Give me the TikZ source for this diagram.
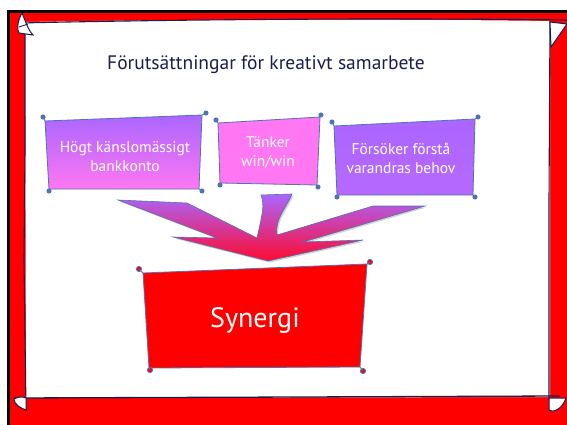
\documentclass[tikz,border=0pt]{standalone}
\usepackage{fontspec}
\setmainfont{PT Sans}
\usetikzlibrary{shadows}
\definecolor{framered}{HTML}{FF0000}
\definecolor{ink}{HTML}{1B1D4D}
\definecolor{edge}{HTML}{4F74B4}
\definecolor{lila}{HTML}{AA66FF}
\definecolor{rosa}{HTML}{FF77F2}
\definecolor{pilred}{HTML}{FF0A30}
\tikzset{
  card/.style={draw=edge, line width=0.8pt},
  knot/.style={fill=edge, draw=edge},
  cardtext/.style={text=white, align=center, font=\fontsize{15.5}{19}\selectfont},
}
\begin{document}
\begin{tikzpicture}[x=1pt,y=-1pt]
    \useasboundingbox (0,0) rectangle (567,425);
    \fill [white] (0,0) rectangle (567,425);
    % red frame
    \fill [framered] (8,11) rectangle (567,425);
    \draw [line width=3pt] (8,425) -- (8,11.5) -- (567,11.5);
    % white sheet with curled corners
    \fill [white] (25,22) .. controls (200,19) and (400,19) .. (550,21) -- (550,397) -- (26,398) -- cycle;
    \draw [ink, line width=1.1pt] (20,23) .. controls (200,19) and (400,18) .. (567,20);
    \draw [ink, line width=1.1pt] (25,30) -- (25,150) -- (24,260) -- (26,410);
    \draw [ink, line width=1.1pt] (550,21) -- (549,200) -- (549,400);
    \draw [ink, line width=1.3pt] (14,398) -- (300,397) -- (560,396);
    \filldraw [white, draw=ink, line width=1pt] (22,13) .. controls (17,22) and (17,30) .. (19,33) -- (33,35) .. controls (28,30) and (25,20) .. cycle;
    \draw [ink, line width=0.8pt] (19,27) -- (28,24);
    \filldraw [white, draw=ink, line width=1pt] (550,22) -- (567,24) -- (551,47) -- cycle;
    \filldraw [white, draw=ink, line width=1pt] (14,399) .. controls (18,396) and (25,397) .. (26,398) -- (26,410) .. controls (20,408) and (14,404) .. cycle;
    \filldraw [white, draw=ink, line width=1pt] (549,398) -- (566,398) .. controls (562,410) and (552,413) .. (549,410) -- cycle;

    \node [ink, font=\fontsize{19.5}{22}\selectfont] (titel) at (266,65) {Förutsättningar för kreativt samarbete};

    % three cards, each with small curls at the corners
    \draw [card, top color=lila, bottom color=rosa] (45,121) -- (202,115) -- (199,189) -- (49,189) -- cycle;
    \draw [card, fill=rosa] (218,123) -- (320,117) -- (317,185) -- (220,183) -- cycle;
    \draw [card, top color=lila, bottom color=lila!85!rosa] (334,126) -- (475,119) -- (473,195) -- (337,195) -- cycle;
    \foreach \ax/\ay/\bx/\by in {45/121/43/117, 202/115/206/113, 199/189/202/191, 49/189/49/191,
                                 218/123/216/120, 320/117/321/115, 317/185/318/187, 220/183/220/185,
                                 334/126/332/122, 475/119/478/117, 473/195/475/197, 337/195/337/197}
        \draw [edge, line width=0.8pt] (\ax,\ay) -- (\bx,\by) [knot] circle (2.1);
    \node [cardtext] (konto) at (125,157) {Högt känslomässigt\\bankkonto};
    \node [cardtext] (winwin) at (268,153) {Tänker\\win/win};
    \node [cardtext] (behov) at (401,158) {Försöker förstå\\varandras behov};

    % converging arrow
    \draw [edge, line width=0.6pt, top color=lila, bottom color=pilred,
           drop shadow={opacity=0.35, shadow xshift=1.5pt, shadow yshift=-1.5pt}]
        (268,261) -- (173,237) -- (217,238) -- (118,200) -- (187,203) -- (257,238)
        .. controls (262,215) and (265,205) .. (261,195) -- (292,194)
        .. controls (288,205) and (274,220) .. (277,235)
        -- (373,206) -- (425,206) -- (303,242) -- (363,240) -- cycle;

    % result card
    \draw [card, fill=framered] (143,273) -- (367,264) -- (360,367) -- (149,368) -- cycle;
    \foreach \ax/\ay/\bx/\by in {143/273/139/269, 367/264/370/262, 360/367/363/371, 149/368/150/370}
        \draw [edge, line width=0.8pt] (\ax,\ay) -- (\bx,\by) [fill=framered] circle (2.6);
    \node [text=white, font=\fontsize{28}{30}\selectfont] (synergi) at (255,320) {Synergi};
\end{tikzpicture}
\end{document}
